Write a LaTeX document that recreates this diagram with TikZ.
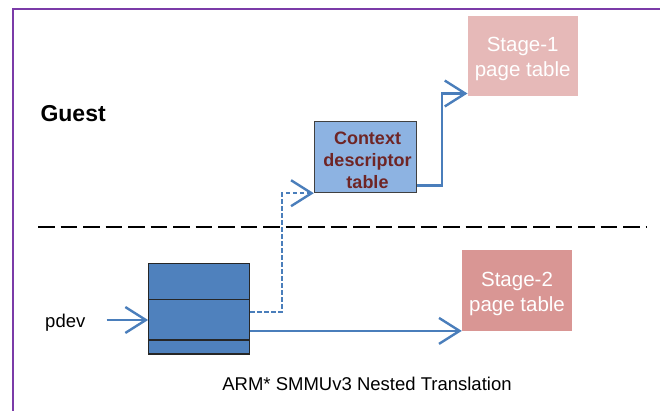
\documentclass[tikz,border=0pt]{standalone}
\usepackage{fontspec}
\setmainfont{Liberation Sans}
\usetikzlibrary{arrows.meta}
\definecolor{framepurple}{HTML}{7B3BA8}
\definecolor{stageonefill}{HTML}{E6B9B8}
\definecolor{stagetwofill}{HTML}{D99694}
\definecolor{ctxfill}{HTML}{8DB3E2}
\definecolor{ctxtext}{HTML}{6F2525}
\definecolor{pdevfill}{HTML}{4F81BD}
\definecolor{linkblue}{HTML}{4A7EBB}
\tikzset{
  pagebox/.style={inner sep=0pt, minimum width=110pt, text=white, align=center,
    font=\fontsize{20.5}{25}\selectfont},
  conn/.style={draw=linkblue, line width=2.4pt,
    -{Straight Barb[length=19pt,width=24pt,line width=2.4pt,scale=1.08]}},
}
\begin{document}
\begin{tikzpicture}[x=1pt,y=-1pt]
\useasboundingbox (0,0) rectangle (660,411);

% outer frame (runs past the right and bottom edges)
\draw[framepurple, line width=2.6pt] (13,420) -- (13,9) -- (670,9);

% guest / host separator
\draw[black, line width=2pt, dash pattern=on 16.5pt off 6pt] (38,227.5) -- (647,227.5);

\node[anchor=base west, font=\bfseries\fontsize{23}{27}\selectfont] (guest) at (37,121.7) {Guest};

% page tables
\node[pagebox, fill=stageonefill, minimum height=79.7pt] (s1) at (522.7,55.85) {};
\node[pagebox] (s1t) at (522.7,58.5) {Stage-1\\page table};
\node[pagebox, fill=stagetwofill, minimum height=80.7pt] (s2) at (517,290.35) {};
\node[pagebox] (s2t) at (517,293.7) {Stage-2\\page table};

% context descriptor table
\node[draw=black!75, line width=1pt, fill=ctxfill, minimum width=101.7pt, minimum height=70.7pt, inner sep=0pt] (ctx) at (365.15,157.35) {};
\node[text=ctxtext, align=center, inner sep=0pt,
  font=\bfseries\fontsize{18}{22}\selectfont] (ctxt) at (367.5,160.5) {Context\\descriptor\\table};

% device stream table
\node[draw=black!85, line width=1.2pt, fill=pdevfill, minimum width=101pt, minimum height=90.7pt, inner sep=0pt] (pdev) at (199.2,308.65) {};
\draw[black!85, line width=1.2pt] (pdev.west |- 0,299.3) -- (pdev.east |- 0,299.3);
\draw[black!85, line width=1.2pt] (pdev.west |- 0,340) -- (pdev.east |- 0,340);

\node[anchor=base, font=\fontsize{18.5}{22}\selectfont] (lbl) at (65.3,327.5) {pdev};

% connectors
\draw[conn] ([xshift=-41.4pt,yshift=-11.35pt]pdev.west) -- ([yshift=-11.35pt]pdev.west);
\draw[conn] (pdev.east |- s2.south west) -- (s2.south west);
\draw[conn, dash pattern=on 4.5pt off 2.5pt] ([yshift=-3.05pt]pdev.east) -| ([xshift=-31.6pt]ctx.south west) -- (ctx.south west);
\draw[conn] ([yshift=7.7pt]ctx.south east) -| ([xshift=-25.4pt,yshift=2.4pt]s1.south west) -- ([yshift=2.4pt]s1.south west);

\node[anchor=base, font=\fontsize{18.5}{22}\selectfont] (caption) at (367,390) {ARM* SMMUv3 Nested Translation};
\end{tikzpicture}
\end{document}
